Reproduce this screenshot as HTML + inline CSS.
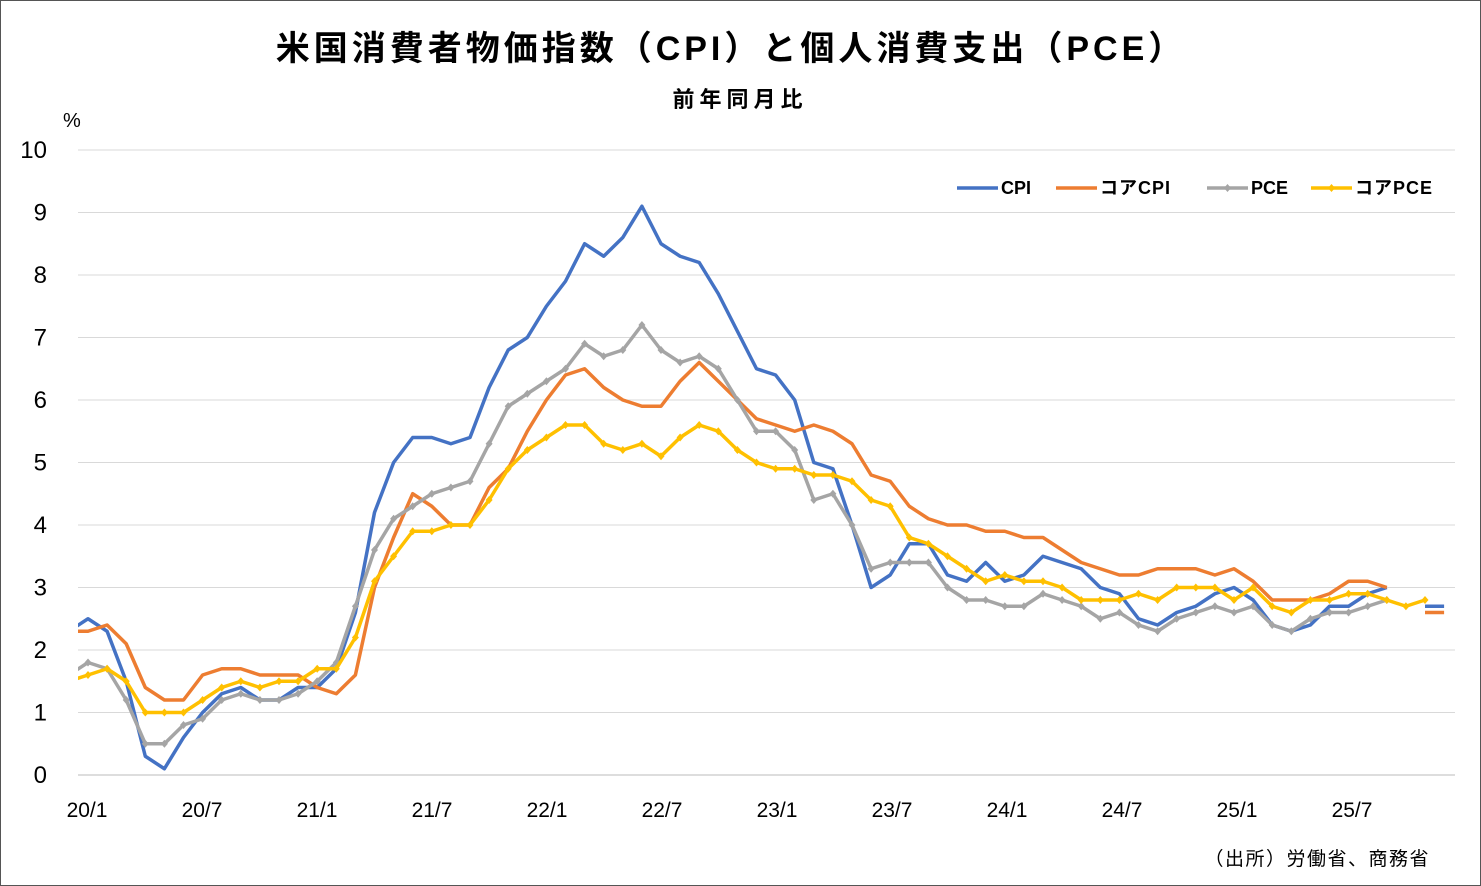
<!DOCTYPE html>
<html><head><meta charset="utf-8"><style>
body{margin:0;background:#fff}
svg{display:block}
text{font-family:"Liberation Sans","Noto Sans CJK JP",sans-serif;fill:#000}
</style></head><body>
<svg id="s" width="1481" height="886" xmlns="http://www.w3.org/2000/svg">
<rect x="0.5" y="0.5" width="1480" height="885" fill="#fff" stroke="#555"/>
<text x="731" y="60" font-size="34" font-weight="bold" text-anchor="middle" letter-spacing="4">米国消費者物価指数（CPI）と個人消費支出（PCE）</text>
<text x="740" y="107" font-size="22" font-weight="bold" text-anchor="middle" letter-spacing="5">前年同月比</text>
<text x="63" y="127" font-size="20">%</text>
<g id="grid"></g>
<g font-size="24" text-anchor="end" id="yl"></g>
<g font-size="21" text-anchor="middle">
<text x="87" y="817">20/1</text><text x="202" y="817">20/7</text><text x="317" y="817">21/1</text><text x="432" y="817">21/7</text><text x="547" y="817">22/1</text><text x="662" y="817">22/7</text><text x="777" y="817">23/1</text><text x="892" y="817">23/7</text><text x="1007" y="817">24/1</text><text x="1122" y="817">24/7</text><text x="1237" y="817">25/1</text><text x="1352" y="817">25/7</text>
</g>
<text x="1430" y="865" font-size="19" text-anchor="end" fill="#333" letter-spacing="1.5">（出所）労働省、商務省</text>
<defs><clipPath id="c"><rect x="78" y="100" width="1400" height="700"/></clipPath></defs>
<g id="lines" clip-path="url(#c)"></g>
<g font-size="18" font-weight="bold">
<line x1="957" y1="188" x2="998" y2="188" stroke="#4472C4" stroke-width="3.5"/><text x="1001" y="194">CPI</text>
<line x1="1056" y1="188" x2="1097" y2="188" stroke="#ED7D31" stroke-width="3.5"/><text x="1100" y="194" letter-spacing="1">コアCPI</text>
<line x1="1207" y1="188" x2="1248" y2="188" stroke="#A5A5A5" stroke-width="3.5"/><path d="M1227.5 184l3.5 4-3.5 4-3.5-4z" fill="#A5A5A5"/><text x="1251" y="194">PCE</text>
<line x1="1311" y1="188" x2="1352" y2="188" stroke="#FFC000" stroke-width="3.5"/><path d="M1331.5 184l3.5 4-3.5 4-3.5-4z" fill="#FFC000"/><text x="1355" y="194" letter-spacing="1">コアPCE</text>
</g>
</svg>
<script>
const NS="http://www.w3.org/2000/svg";
function el(t,a,p){const e=document.createElementNS(NS,t);for(const k in a)e.setAttribute(k,a[k]);p.appendChild(e);return e;}
const g=document.getElementById('grid'),yl=document.getElementById('yl'),L=document.getElementById('lines');
const Y=v=>775-62.5*v, X=i=>88+19.1*i;
for(let v=0;v<=10;v++){el('line',{x1:78,x2:1455,y1:Y(v),y2:Y(v),stroke:v==0?'#bbb':'#d9d9d9','stroke-width':1},g);const t=el('text',{x:47,y:Y(v)+8},yl);t.textContent=v;}
const N=null;
const cpi=[2.3,2.5,2.3,1.5,0.3,0.1,0.6,1.0,1.3,1.4,1.2,1.2,1.4,1.4,1.7,2.6,4.2,5.0,5.4,5.4,5.3,5.4,6.2,6.8,7.0,7.5,7.9,8.5,8.3,8.6,9.1,8.5,8.3,8.2,7.7,7.1,6.5,6.4,6.0,5.0,4.9,4.0,3.0,3.2,3.7,3.7,3.2,3.1,3.4,3.1,3.2,3.5,3.4,3.3,3.0,2.9,2.5,2.4,2.6,2.7,2.9,3.0,2.8,2.4,2.3,2.4,2.7,2.7,2.9,3.0,N,2.7,2.7];
const ccpi=[2.3,2.3,2.4,2.1,1.4,1.2,1.2,1.6,1.7,1.7,1.6,1.6,1.6,1.4,1.3,1.6,3.0,3.8,4.5,4.3,4.0,4.0,4.6,4.9,5.5,6.0,6.4,6.5,6.2,6.0,5.9,5.9,6.3,6.6,6.3,6.0,5.7,5.6,5.5,5.6,5.5,5.3,4.8,4.7,4.3,4.1,4.0,4.0,3.9,3.9,3.8,3.8,3.6,3.4,3.3,3.2,3.2,3.3,3.3,3.3,3.2,3.3,3.1,2.8,2.8,2.8,2.9,3.1,3.1,3.0,N,2.6,2.6];
const pce=[1.6,1.8,1.7,1.2,0.5,0.5,0.8,0.9,1.2,1.3,1.2,1.2,1.3,1.5,1.8,2.7,3.6,4.1,4.3,4.5,4.6,4.7,5.3,5.9,6.1,6.3,6.5,6.9,6.7,6.8,7.2,6.8,6.6,6.7,6.5,6.0,5.5,5.5,5.2,4.4,4.5,4.0,3.3,3.4,3.4,3.4,3.0,2.8,2.8,2.7,2.7,2.9,2.8,2.7,2.5,2.6,2.4,2.3,2.5,2.6,2.7,2.6,2.7,2.4,2.3,2.5,2.6,2.6,2.7,2.8];
const cpce=[1.5,1.6,1.7,1.5,1.0,1.0,1.0,1.2,1.4,1.5,1.4,1.5,1.5,1.7,1.7,2.2,3.1,3.5,3.9,3.9,4.0,4.0,4.4,4.9,5.2,5.4,5.6,5.6,5.3,5.2,5.3,5.1,5.4,5.6,5.5,5.2,5.0,4.9,4.9,4.8,4.8,4.7,4.4,4.3,3.8,3.7,3.5,3.3,3.1,3.2,3.1,3.1,3.0,2.8,2.8,2.8,2.9,2.8,3.0,3.0,3.0,2.8,3.0,2.7,2.6,2.8,2.8,2.9,2.9,2.8,2.7,2.8];
function draw(d,col,mk){let segs=[],cur=[];d.forEach((v,j)=>{const i=j-1;if(v===N){if(cur.length)segs.push(cur);cur=[];}else cur.push([X(i),Y(v)]);});if(cur.length)segs.push(cur);
segs.forEach(s=>el('polyline',{points:s.map(p=>p.join(',')).join(' '),fill:'none',stroke:col,'stroke-width':3.5,'stroke-linejoin':'round'},L));
if(mk)d.forEach((v,j)=>{if(v===N||j==0)return;const x=X(j-1),y=Y(v);el('path',{d:`M${x} ${y-4}l3.5 4-3.5 4-3.5-4z`,fill:col},L);});}
draw(cpi,'#4472C4');draw(ccpi,'#ED7D31');draw(pce,'#A5A5A5',1);draw(cpce,'#FFC000',1);
</script>
</body></html>
